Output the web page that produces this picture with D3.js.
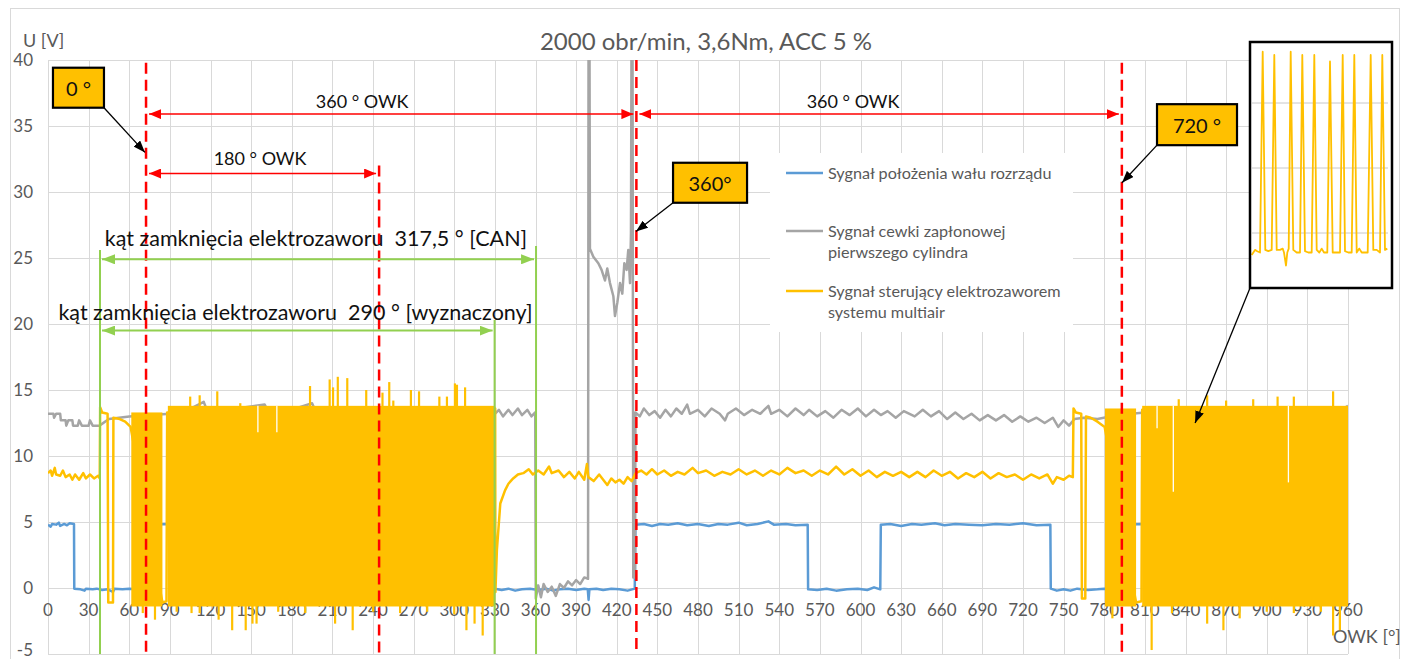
<!DOCTYPE html>
<html>
<head>
<meta charset="utf-8">
<script src="https://cdn.jsdelivr.net/npm/d3@7"></script>
<style>
  body { margin: 0; background: #fff; }
  svg { display: block; font-family: Lato, "Open Sans", sans-serif; }
</style>
</head>
<body>
<svg id="chart" width="1406" height="659"></svg>
<script>
// ---- data ----
var xTicks = [0, 30, 60, 90, 120, 150, 180, 210, 240, 270, 300, 330, 360, 390, 420, 450, 480,
  510, 540, 570, 600, 630, 660, 690, 720, 750, 780, 810, 840, 870, 900, 930, 960];
var yTicks = [-5, 0, 5, 10, 15, 20, 25, 30, 35, 40];

// camshaft position signal [deg, V]
var camSignal = [[0,4.8],[2,4.65],[3,4.85],[6,4.8],[8,4.95],[9,4.7],[12,4.85],[14,4.75],[16,4.9],[19.2,4.85],
  [19.4,-0.05],[24,-0.1],[27,-0.2],[28,-0.05],[33,-0.1],[36,-0.05],[40,-0.15],[44,-0.1],[48,-0.3],[49,-0.05],
  [55,-0.1],[60,-0.05],[66,-0.1],[72.8,-0.05],[73,4.8],[90,4.85],[200,4.8],[200.2,-0.1],[254,-0.1],[254.2,4.8],
  [318,4.8],[318.2,-0.1],[330,-0.05],[335,-0.15],[340,-0.05],[345,-0.2],[350,-0.1],[356,-0.05],[362,-0.15],
  [368,-0.05],[373,-0.2],[378,-0.1],[384,-0.05],[390,-0.15],[396,-0.05],[398.6,-0.1],[399.2,-0.9],[399.8,-0.1],
  [405,-0.05],[410,-0.15],[416,-0.05],[422,-0.1],[428,-0.2],[433.3,-0.05],[433.8,4.8],[440,4.85],[446,4.7],
  [452,4.85],[458,4.8],[465,4.9],[472,4.75],[480,4.85],[488,4.7],[495,4.85],[502,4.8],[510,4.95],[516,4.75],
  [524,4.85],[532,5.05],[536,4.8],[545,4.85],[552,4.75],[561,4.8],[561.3,-0.1],[568,-0.15],[575,-0.05],
  [582,-0.2],[590,-0.1],[598,-0.05],[605,-0.15],[610,0.05],[614.6,-0.1],[615,4.8],[622,4.85],[630,4.7],
  [638,4.85],[645,4.8],[655,4.9],[662,4.75],[670,4.85],[680,4.8],[690,4.75],[700,4.85],[710,4.8],[720,4.9],
  [730,4.75],[740.2,4.8],[740.5,-0.05],[745,-0.2],[750,-0.1],[755,-0.2],[760,-0.05],[768,-0.15],[775,-0.1],
  [780,-0.05],[793,-0.1],[793.3,4.8],[810,4.85],[880,4.8],[960,4.8]];

// ignition coil signal, first cylinder [deg, V]
var coilSignal = [[0,13.2],[4,13.2],[4.5,12.9],[6,13.2],[9,13.2],[9.5,12.7],[13,12.7],[13.5,12.3],[15,12.7],
  [18,12.7],[18.5,12.3],[22,12.3],[23,12.7],[25,12.3],[30,12.3],[31,12.7],[33,12.3],[38,12.3],[45,12.8],
  [60,13.0],[90,13.2],[100,13.3],[115,14.1],[118,13.3],[160,13.9],[163,13.3],[180,13.5],[195,14.0],[198,13.3],
  [220,13.3],[260,13.5],[300,13.3],[330,13.2],[333,13.5],[336,13.0],[340,13.5],[343,13.1],[347,13.6],
  [350,13.1],[354,13.5],[357,13.0],[359.8,13.3],[360.2,-0.8],[362,0.2],[364,-0.7],[366,0.3],[369,-0.3],
  [372,0.1],[375,-0.6],[378,0.3],[381,0.0],[384,0.5],[387,0.2],[390,0.6],[393,0.3],[396,0.8],[398.8,0.7],
  [399.2,45],[399.8,45],[400.2,25.7],[402.7,25.1],[406.4,24.6],[408.8,24.1],[411.3,23.3],[413,24.2],
  [415,23.1],[417.5,22.1],[418.7,20.6],[420.4,21.6],[422.4,23.1],[424.1,22.3],[425.6,24.6],[427.3,24.1],
  [428.5,25.6],[429.8,23.1],[430.5,26.9],[431,45],[431.6,45],[432.2,0.8],[433.5,0.8],[433.8,13.3],
  [437,13.0],[440,13.6],[444,13.1],[448,13.4],[452,12.9],[456,13.5],[460,13.0],[464,13.6],[468,13.2],
  [472,13.9],[474,13.2],[480,13.5],[485,13.0],[490,13.6],[496,13.2],[500,12.7],[502,13.2],[508,13.6],
  [514,13.1],[520,13.5],[526,13.2],[532,13.8],[534,13.2],[540,13.5],[546,13.0],[552,13.6],[558,13.1],
  [562,13.5],[568,13.0],[574,13.4],[580,12.9],[586,13.5],[592,13.1],[598,13.6],[604,13.0],[610,13.5],
  [615,13.1],[620,13.4],[626,12.9],[632,13.4],[640,13.0],[646,13.5],[652,13.0],[658,13.4],[664,12.8],
  [670,13.3],[676,12.8],[682,13.2],[688,12.7],[694,13.1],[700,12.7],[706,13.1],[712,12.6],[718,13.0],
  [724,12.6],[730,12.9],[736,12.5],[742,12.9],[746,12.2],[750,12.7],[754,12.3],[758,12.8],[765,12.9],
  [775,12.8],[790,13.1],[810,13.3],[850,13.4],[900,13.3],[940,13.4],[955,13.5],[960,13.8]];

// solenoid valve control signal, slow parts [deg, V]
var valveSignal = [[0,8.7],[2,8.9],[3,8.5],[5,9.1],[6,8.6],[9,8.5],[11,8.9],[13,8.4],[16,8.6],[18,8.2],
  [20,8.6],[23,8.2],[26,8.7],[28,8.3],[31,8.6],[34,8.3],[37,8.5],[38.2,8.3],[38.5,13.7],[40,13.3],[44,13.2],
  [44.5,-1.1],[48,-1.1],[48.3,12.9],[53,12.8],[57,12.6],[61,12.2],[84.5,-1.1],[87.5,-1.0],[88,13.3],
  [330.2,13.6],[330.4,-0.3],[331.5,2.9],[334,6.4],[337.5,7.4],[340,7.9],[343.5,8.3],[347,8.6],[351,8.7],
  [355,9.0],[358,8.6],[362,8.9],[366,8.6],[370,9.2],[372,8.7],[377,8.9],[381,8.4],[385,8.8],[389,8.3],
  [392,8.8],[396,8.2],[398,9.4],[399,8.4],[403,8.1],[407,8.6],[410,8.2],[413,7.8],[416,8.3],[419,8.0],
  [422,8.2],[425,7.9],[428,8.4],[431,8.1],[434,8.7],[438,8.9],[442,8.6],[446,9.0],[450,8.6],[455,8.9],
  [460,8.5],[465,8.8],[470,8.6],[476,9.1],[480,8.7],[486,8.9],[492,8.5],[498,8.8],[504,8.6],[510,9.0],
  [516,8.6],[522,8.9],[528,8.5],[534,8.9],[540,8.6],[546,9.1],[552,8.7],[558,8.9],[564,8.5],[570,8.9],
  [576,8.6],[582,9.2],[588,8.6],[594,9.0],[600,8.5],[606,8.9],[612,8.4],[618,8.8],[624,8.5],[630,8.8],
  [636,8.4],[642,8.8],[648,8.4],[654,8.9],[660,8.5],[666,8.8],[672,8.3],[678,8.7],[684,8.4],[690,8.8],
  [696,8.3],[702,8.7],[708,8.4],[714,8.6],[720,8.2],[726,8.6],[732,8.3],[738,8.6],[742,7.9],[745,8.4],
  [750,8.2],[754,8.5],[756.8,8.4],[757.3,13.6],[759,13.3],[763,13.2],[763.5,-0.8],[766,-0.8],[766.5,13.0],
  [770,12.9],[775,12.6],[780.3,12.2],[803.5,-1.1],[807.5,-1.0],[808,13.5],[960,13.5]];

// dense switching of the valve signal: [from deg, to deg, low V, high V]
var valveBursts = [[61.5, 84.5, -1.4, 13.3], [88.5, 330.2, -1.4, 13.8],
  [780.5, 803.5, -1.4, 13.6], [808, 960, -1.4, 13.8]];
// peaks above the burst tops [deg, V]
var valvePeaksUp = [[105,14.5],[112,14.6],[125,14.9],[142,14.0],[193.5,15.3],[208,15.8],[210.5,15.2],
  [214,16.0],[221,15.9],[235,15.0],[247,14.8],[252,15.6],[255,14.2],[268,15.0],[274,14.9],[289,14.5],
  [294.6,14.5],[300.5,15.5],[302,15.4],[308,15.2],[835,14.3],[856,14.6],[870,14.2],[890,14.3],[908,14.5],
  [920,14.5],[949,14.9]];
// peaks below the burst bottoms [deg, V]
var valvePeaksDown = [[70,-1.9],[79,-2.4],[95,-1.8],[106,-1.9],[112,-1.9],[126,-2.4],[136,-3.2],[146,-3.2],
  [151,-2.7],[154,-2.7],[170,-1.8],[190,-1.9],[212,-2.7],[225,-3.2],[240,-1.8],[260,-1.9],[280,-1.8],
  [300,-2.0],[309,-3.2],[315,-2.7],[321,-3.6],[786,-2.3],[815,-4.7],[830,-1.9],[856,-2.7],[868,-3.2],
  [880,-2.3],[900,-1.8],[920,-1.9],[940,-1.8],[949,-3.6],[954,-3.2]];
// thin blank streaks inside the bursts [deg, top V, bottom V]
var valveGaps = [[155,13.8,11.8],[169,13.8,11.8],[819,13.8,12.1],[831,13.8,7.3],[916,13.8,8.0]];

// zoomed-in detail of the valve signal (inset): [sample position, V]
var insetSignal = [[1.7,-1.7],[5,-1.3],[7.3,-1.4],[10,-1.5],[12.7,13.95],[15.3,-1.3],[18.3,-1.4],[21.7,-1.3],
  [24.3,13.7],[26.7,-1.3],[30,-1.3],[32.7,-1.2],[34,-1.5],[36,-2.5],[37.3,-1.5],[38.7,-1.2],[40.7,13.95],
  [43.3,-1.3],[46.7,-1.5],[50,-1.5],[52.3,13.7],[55,-1.4],[58.3,-1.5],[61.7,-1.5],[64.3,13.7],[66.7,-1.3],
  [69.3,-1.5],[71.7,-1.2],[74,-1.5],[77.3,-1.5],[80,13.2],[82.7,-1.5],[86,-1.5],[90,-1.5],[92.7,13.7],
  [95,-1.4],[98.3,-1.5],[101.7,-1.5],[104.3,13.7],[106.7,-1.5],[109.3,-1.2],[111.7,-1.5],[115,-1.5],
  [117.7,-1.5],[120.7,13.7],[123.3,-1.3],[126.7,-1.3],[130,-1.5],[132.3,13.7],[135,-1.3],[137.3,-1.2]];
var insetGrid = [0, 5, 10];

var seriesNames = ["Sygnał położenia wału rozrządu",
  ["Sygnał cewki zapłonowej", "pierwszego cylindra"],
  ["Sygnał sterujący elektrozaworem", "systemu multiair"]];

// ---- annotations (data units) ----
var crankMarks = [[72.4, 39.8], [244.5, 32.0], [434.5, 40], [793, 39.8]];   // [deg, top V]
var crankSpans = [[72.4, 434.5, 35.9, "360 ° OWK", 232, 36.36],
  [434.5, 793, 35.9, "360 ° OWK", 594.5, 36.4],
  [72.4, 244.5, 31.4, "180 ° OWK", 156.6, 32.05]];
var closeMarks = [[38.4, 25.6], [360.4, 25.9], [329.8, 20.3]];
var closeSpans = [[38.4, 360.4, 24.9, "kąt zamknięcia elektrozaworu  317,5 ° [CAN]", 197.9, 25.93],
  [38.4, 329.8, 19.5, "kąt zamknięcia elektrozaworu  290 ° [wyznaczony]", 182.8, 20.33]];
// [label, centre deg, centre V, box w, box h, arrow tip deg, tip V, corner]
var callouts = [["0 °", 22.5, 37.9, 51, 40, 71.6, 33.0, "br"],
  ["360°", 488.9, 30.7, 74, 40, 434.2, 27.0, "bl"],
  ["720 °", 848.5, 35.1, 80, 41, 793.1, 30.7, "bl"]];
var insetTip = [847.1, 12.5];

// ---- colours ----
var cBlue = "#5B9BD5", cGray = "#A5A5A5", cYellow = "#FFC000", cRed = "#FF0000", cGreen = "#92D050";
var cGrid = "#D9D9D9", cText = "#595959";

// ---- scales ----
var svg = d3.select("#chart");
var x = d3.scaleLinear().domain([0, 960]).range([48, 1348]);
var y = d3.scaleLinear().domain([-5, 40]).range([654, 60]);

svg.append("rect").attr("x", 10.5).attr("y", 8.5).attr("width", 1389).attr("height", 700)
  .attr("fill", "#fff").attr("stroke", cGrid);

var defs = svg.append("defs");
defs.append("clipPath").attr("id", "plot").append("rect")
  .attr("x", x(0)).attr("y", y(40)).attr("width", x(960) - x(0)).attr("height", y(-5) - y(40));

function addMarker(id, color, len, wid) {
  defs.append("marker").attr("id", id)
    .attr("markerUnits", "userSpaceOnUse")
    .attr("markerWidth", len).attr("markerHeight", wid)
    .attr("refX", len).attr("refY", wid / 2)
    .attr("orient", "auto-start-reverse")
    .append("path").attr("d", "M0,0 L" + len + "," + (wid / 2) + " L0," + wid + "z").attr("fill", color);
}
addMarker("arRed", cRed, 12, 10);
addMarker("arGreen", cGreen, 13, 10);
addMarker("arBlack", "#000", 12, 9);

// ---- grid ----
var grid = svg.append("g");
grid.selectAll(".gx").data(xTicks).enter().append("line")
  .attr("x1", function(d) { return Math.round(x(d)) + 0.5; })
  .attr("x2", function(d) { return Math.round(x(d)) + 0.5; })
  .attr("y1", y(40)).attr("y2", y(-5))
  .attr("stroke", cGrid);
grid.selectAll(".gy").data(yTicks).enter().append("line")
  .attr("x1", x(0)).attr("x2", x(960))
  .attr("y1", function(d) { return Math.round(y(d)) + 0.5; })
  .attr("y2", function(d) { return Math.round(y(d)) + 0.5; })
  .attr("stroke", cGrid);

// ---- tick labels ----
svg.append("g").selectAll("text").data(yTicks).enter().append("text")
  .attr("x", 33).attr("y", function(d) { return Math.min(y(d) + 6, 656); })
  .attr("text-anchor", "end").attr("fill", cText).attr("font-size", 17)
  .text(function(d) { return d; });
svg.append("g").selectAll("text").data(xTicks).enter().append("text")
  .attr("x", function(d) { return x(d); }).attr("y", y(0) + 28)
  .attr("text-anchor", "middle").attr("fill", cText).attr("font-size", 17)
  .text(function(d) { return d; });

svg.append("text").attr("x", 706).attr("y", 50).attr("text-anchor", "middle")
  .attr("fill", cText).attr("font-size", 24).text("2000 obr/min, 3,6Nm, ACC 5 %");
svg.append("text").attr("x", 23).attr("y", 47).attr("fill", cText).attr("font-size", 18).text("U [V]");
svg.append("text").attr("x", 1333).attr("y", 643).attr("fill", cText).attr("font-size", 18).text("OWK [°]");

// ---- series ----
var line = d3.line().x(function(d) { return x(d[0]); }).y(function(d) { return y(d[1]); });
var plot = svg.append("g").attr("clip-path", "url(#plot)");

plot.append("path").datum(camSignal).attr("d", line)
  .attr("fill", "none").attr("stroke", cBlue).attr("stroke-width", 2.5).attr("stroke-linejoin", "round");
plot.append("path").datum(coilSignal).attr("d", line)
  .attr("fill", "none").attr("stroke", cGray).attr("stroke-width", 2.5).attr("stroke-linejoin", "round");
plot.append("path").datum(valveSignal).attr("d", line)
  .attr("fill", "none").attr("stroke", cYellow).attr("stroke-width", 2.5).attr("stroke-linejoin", "round");

plot.selectAll(".burst").data(valveBursts).enter().append("rect")
  .attr("x", function(d) { return x(d[0]); })
  .attr("width", function(d) { return x(d[1]) - x(d[0]); })
  .attr("y", function(d) { return y(d[3]); })
  .attr("height", function(d) { return y(d[2]) - y(d[3]); })
  .attr("fill", cYellow);
plot.selectAll(".pu").data(valvePeaksUp).enter().append("line")
  .attr("x1", function(d) { return x(d[0]); }).attr("x2", function(d) { return x(d[0]); })
  .attr("y1", y(13.5)).attr("y2", function(d) { return y(d[1]); })
  .attr("stroke", cYellow).attr("stroke-width", 2.2);
plot.selectAll(".pd").data(valvePeaksDown).enter().append("line")
  .attr("x1", function(d) { return x(d[0]); }).attr("x2", function(d) { return x(d[0]); })
  .attr("y1", y(-1.2)).attr("y2", function(d) { return y(d[1]); })
  .attr("stroke", cYellow).attr("stroke-width", 2.2);
plot.selectAll(".gap").data(valveGaps).enter().append("line")
  .attr("x1", function(d) { return x(d[0]); }).attr("x2", function(d) { return x(d[0]); })
  .attr("y1", function(d) { return y(d[1]); }).attr("y2", function(d) { return y(d[2]); })
  .attr("stroke", "#fff").attr("stroke-width", 1.3);

// ---- legend ----
var lg = svg.append("g");
lg.append("rect").attr("x", 770).attr("y", 153).attr("width", 303).attr("height", 179).attr("fill", "#fff");
var legendRows = [[cBlue, 173], [cGray, 231], [cYellow, 291]];
legendRows.forEach(function(r, i) {
  lg.append("line").attr("x1", 786).attr("x2", 823).attr("y1", r[1]).attr("y2", r[1])
    .attr("stroke", r[0]).attr("stroke-width", 2.5);
  var names = [].concat(seriesNames[i]);
  names.forEach(function(n, j) {
    lg.append("text").attr("x", 828).attr("y", r[1] + 5.5 + j * 21)
      .attr("fill", cText).attr("font-size", 16.2).text(n);
  });
});

// ---- annotations ----
var ann = svg.append("g");
ann.selectAll(".cm").data(crankMarks).enter().append("line")
  .attr("x1", function(d) { return x(d[0]); }).attr("x2", function(d) { return x(d[0]); })
  .attr("y1", function(d) { return y(d[1]); }).attr("y2", y(-5))
  .attr("stroke", cRed).attr("stroke-width", 2.5).attr("stroke-dasharray", "11,6");
ann.selectAll(".cs").data(crankSpans).enter().append("line")
  .attr("x1", function(d) { return x(d[0]) + 3; }).attr("x2", function(d) { return x(d[1]) - 3; })
  .attr("y1", function(d) { return y(d[2]); }).attr("y2", function(d) { return y(d[2]); })
  .attr("stroke", cRed).attr("stroke-width", 1.5)
  .attr("marker-start", "url(#arRed)").attr("marker-end", "url(#arRed)");
ann.selectAll(".ct").data(crankSpans).enter().append("text")
  .attr("x", function(d) { return x(d[4]); }).attr("y", function(d) { return y(d[5]); })
  .attr("text-anchor", "middle").attr("font-size", 18).attr("fill", "#111")
  .text(function(d) { return d[3]; });

ann.selectAll(".gm").data(closeMarks).enter().append("line")
  .attr("x1", function(d) { return x(d[0]); }).attr("x2", function(d) { return x(d[0]); })
  .attr("y1", function(d) { return y(d[1]); }).attr("y2", y(-5))
  .attr("stroke", cGreen).attr("stroke-width", 2);
ann.selectAll(".gs").data(closeSpans).enter().append("line")
  .attr("x1", function(d) { return x(d[0]) + 2; }).attr("x2", function(d) { return x(d[1]) - 2; })
  .attr("y1", function(d) { return y(d[2]); }).attr("y2", function(d) { return y(d[2]); })
  .attr("stroke", cGreen).attr("stroke-width", 2)
  .attr("marker-start", "url(#arGreen)").attr("marker-end", "url(#arGreen)");
ann.selectAll(".gt").data(closeSpans).enter().append("text")
  .attr("x", function(d) { return x(d[4]); }).attr("y", function(d) { return y(d[5]); })
  .attr("text-anchor", "middle").attr("font-size", 21.5).attr("fill", "#111")
  .style("white-space", "pre")
  .text(function(d) { return d[3]; });

callouts.forEach(function(c) {
  var cx = x(c[1]), cy = y(c[2]), w = c[3], h = c[4];
  var sx = c[7] === "br" ? cx + w / 2 : cx - w / 2, sy = cy + h / 2;
  ann.append("line").attr("x1", sx).attr("y1", sy).attr("x2", x(c[5])).attr("y2", y(c[6]))
    .attr("stroke", "#000").attr("stroke-width", 1.3).attr("marker-end", "url(#arBlack)");
  ann.append("rect").attr("x", cx - w / 2).attr("y", cy - h / 2).attr("width", w).attr("height", h)
    .attr("fill", cYellow).attr("stroke", "#000").attr("stroke-width", 2.2);
  ann.append("text").attr("x", cx).attr("y", cy + 8.5).attr("text-anchor", "middle")
    .attr("font-size", 20).attr("fill", "#111").text(c[0]);
});

// ---- inset ----
var inset = { x: 1250, y: 42, w: 142, h: 246 };
var ix = d3.scaleLinear().domain([0, 142]).range([inset.x, inset.x + inset.w]);
var iy = d3.scaleLinear().domain([0, 10]).range([233, 103]);
ann.append("line").attr("x1", inset.x).attr("y1", inset.y + inset.h)
  .attr("x2", x(insetTip[0])).attr("y2", y(insetTip[1]))
  .attr("stroke", "#000").attr("stroke-width", 1.3).attr("marker-end", "url(#arBlack)");
var ig = ann.append("g");
ig.append("rect").attr("x", inset.x).attr("y", inset.y).attr("width", inset.w).attr("height", inset.h)
  .attr("fill", "#fff");
ig.selectAll(".ig").data(insetGrid).enter().append("line")
  .attr("x1", ix(2)).attr("x2", ix(138))
  .attr("y1", function(d) { return iy(d); }).attr("y2", function(d) { return iy(d); })
  .attr("stroke", "#C8C8C8").attr("stroke-width", 1);
var iline = d3.line().x(function(d) { return ix(d[0]); }).y(function(d) { return iy(d[1]); });
ig.append("path").datum(insetSignal).attr("d", iline)
  .attr("fill", "none").attr("stroke", cYellow).attr("stroke-width", 1.8).attr("stroke-linejoin", "round");
ig.append("rect").attr("x", inset.x).attr("y", inset.y).attr("width", inset.w).attr("height", inset.h)
  .attr("fill", "none").attr("stroke", "#000").attr("stroke-width", 2.5);
</script>
</body>
</html>
